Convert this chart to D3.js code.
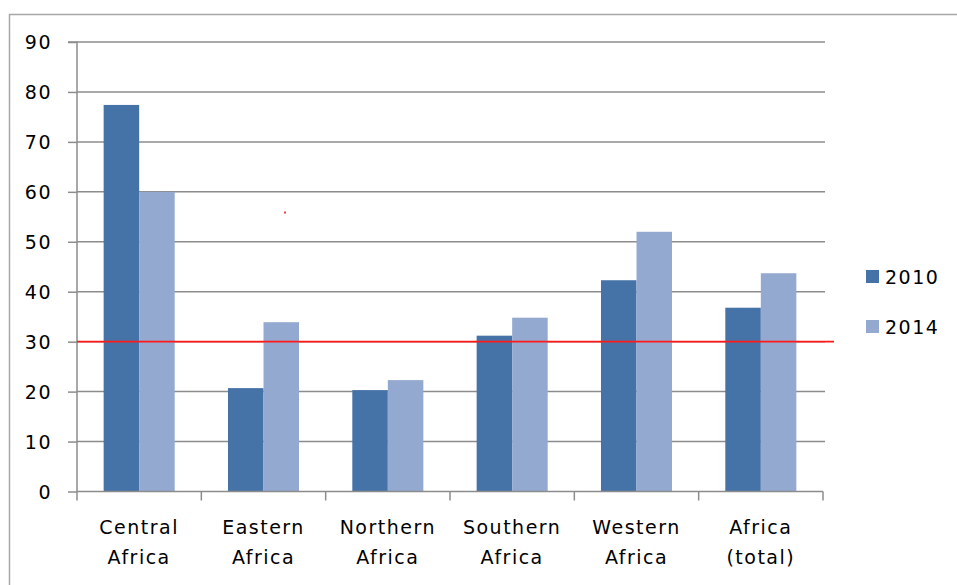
<!DOCTYPE html>
<html>
<head>
<meta charset="utf-8">
<script src="https://cdn.jsdelivr.net/npm/d3@7"></script>
<style>
  html, body { margin: 0; padding: 0; background: #fff; }
  svg text { font-family: "DejaVu Sans", Verdana, sans-serif; fill: #000; }
</style>
</head>
<body>
<svg id="chart" width="957" height="585"></svg>
<script>
const categories = [["Central", "Africa"], ["Eastern", "Africa"], ["Northern", "Africa"], ["Southern", "Africa"], ["Western", "Africa"], ["Africa", "(total)"]];
const seriesNames = ["2010", "2014"];
const values2010 = [77.4, 20.7, 20.3, 31.2, 42.3, 36.8];
const values2014 = [60.0, 33.9, 22.3, 34.8, 52.0, 43.7];
const yTicks = [0, 10, 20, 30, 40, 50, 60, 70, 80, 90];
const threshold = 30;
const colors = ["#4673a7", "#94a9d0"];

(function () {
const svg = d3.select("#chart");
const pLeft = 77, pRight = 823, pTop = 42, pBottom = 491.5;
const fs = 19, ls = "1.5px";

// outer frame
svg.append("rect").attr("x", 9.5).attr("y", 14.5).attr("width", 1000).attr("height", 1000)
  .attr("fill", "none").attr("stroke", "#a6a6a6").attr("stroke-width", 1.5);

const keys = categories.map(c => c.join(" "));
const x0 = d3.scaleBand().domain(keys).range([pLeft, pRight]).paddingInner(0).paddingOuter(0);
const x1 = d3.scaleBand().domain(seriesNames).range([0, x0.bandwidth()]).paddingInner(0).paddingOuter(0.75);
const y = d3.scaleLinear().domain([0, 90]).range([pBottom, pTop]);

// gridlines
svg.append("g").selectAll("line").data(yTicks.filter(t => t > 0)).join("line")
  .attr("x1", pLeft).attr("x2", pRight + 2).attr("y1", d => y(d)).attr("y2", d => y(d))
  .attr("stroke", "#8c8c8c").attr("stroke-width", 1.5);

// bars
const data = keys.map((k, i) => ({ key: k, vals: [values2010[i], values2014[i]] }));
const groups = svg.append("g").selectAll("g").data(data).join("g")
  .attr("transform", d => `translate(${x0(d.key)},0)`);
groups.selectAll("rect").data(d => d.vals.map((v, j) => ({ s: seriesNames[j], v, j }))).join("rect")
  .attr("x", d => x1(d.s)).attr("width", x1.bandwidth())
  .attr("y", d => y(d.v)).attr("height", d => y(0) - y(d.v))
  .attr("fill", d => colors[d.j]);

// y axis
const yAxis = d3.axisLeft(y).tickValues(yTicks).tickSize(9).tickPadding(16).tickFormat(d3.format("d"));
const gy = svg.append("g").attr("transform", `translate(${pLeft},0)`).call(yAxis);
gy.select(".domain").attr("stroke", "#8c8c8c").attr("stroke-width", 1.5).attr("d", `M-9,${pTop}H0V${pBottom}`);
gy.selectAll(".tick line").attr("stroke", "#8c8c8c").attr("stroke-width", 1.5);
gy.selectAll(".tick text").attr("font-size", fs).attr("letter-spacing", ls).attr("dy", "0.36em")
  .attr("fill", "#000").style("font-family", "DejaVu Sans");

// x axis (ticks at category boundaries)
const gx = svg.append("g").attr("transform", `translate(0,${pBottom})`);
gx.append("line").attr("x1", pLeft).attr("x2", pRight).attr("y1", 0).attr("y2", 0)
  .attr("stroke", "#8c8c8c").attr("stroke-width", 1.5);
const bounds = keys.map(k => x0(k)).concat([pRight]);
gx.selectAll("line.tk").data(bounds).join("line").attr("class", "tk")
  .attr("x1", d => d).attr("x2", d => d).attr("y1", 0).attr("y2", 9)
  .attr("stroke", "#8c8c8c").attr("stroke-width", 1.5);
const lbl = gx.selectAll("text.cat").data(categories).join("text").attr("class", "cat")
  .attr("x", (d, i) => x0(keys[i]) + x0.bandwidth() / 2)
  .attr("text-anchor", "middle").attr("font-size", fs).attr("letter-spacing", ls);
lbl.append("tspan").attr("x", (d, i) => x0(keys[i]) + x0.bandwidth() / 2).attr("y", 42).text(d => d[0]);
lbl.append("tspan").attr("x", (d, i) => x0(keys[i]) + x0.bandwidth() / 2).attr("y", 72).text(d => d[1]);

// threshold line
svg.append("line").attr("x1", pLeft).attr("x2", 834).attr("y1", y(threshold)).attr("y2", y(threshold))
  .attr("stroke", "#ff1a1a").attr("stroke-width", 1.8);

// stray red dot
svg.append("rect").attr("x", 284).attr("y", 211.5).attr("width", 2).attr("height", 2).attr("fill", "#ff4040");

// legend
const legend = svg.append("g").selectAll("g").data(seriesNames).join("g")
  .attr("transform", (d, i) => `translate(866,${270 + i * 50})`);
legend.append("rect").attr("width", 13).attr("height", 13).attr("fill", (d, i) => colors[i]);
legend.append("text").attr("x", 19).attr("y", 13.5).attr("font-size", fs).attr("letter-spacing", ls).text(d => d);
})();
</script>
</body>
</html>
